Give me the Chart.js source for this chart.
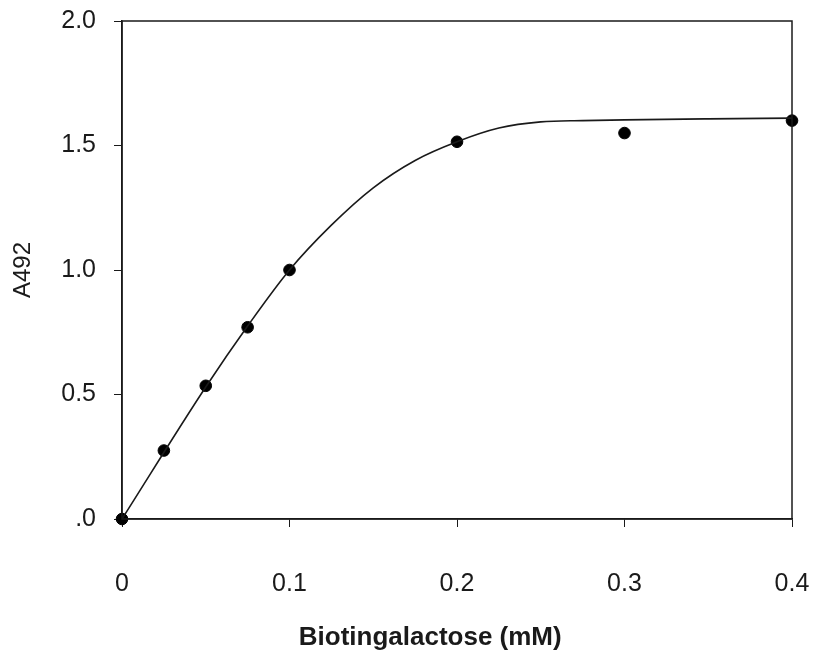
<!DOCTYPE html>
<html>
<head>
<meta charset="utf-8">
<script src="https://cdn.jsdelivr.net/npm/chart.js@4"></script>
<style>
  html, body { margin: 0; padding: 0; background: #fff; }
  #wrap { width: 813px; height: 660px; }
</style>
</head>
<body>
<div id="wrap"><canvas id="chart" width="813" height="660"></canvas></div>
<script>
// measured points
const concX = [0, 0.025, 0.05, 0.075, 0.1, 0.2, 0.3, 0.4];
const absY = [0, 0.275, 0.535, 0.77, 1.0, 1.515, 1.55, 1.6];

// fitted curve
const fitX = [0, 0.05, 0.075, 0.1, 0.125, 0.15, 0.175, 0.2, 0.225, 0.25, 0.275, 0.3, 0.35, 0.4];
const fitY = [0, 0.53, 0.775, 1.0, 1.18, 1.33, 1.44, 1.515, 1.57, 1.595, 1.6, 1.603, 1.607, 1.61];

const xTicks = [0, 0.1, 0.2, 0.3, 0.4];
const xTickLabels = ['0', '0.1', '0.2', '0.3', '0.4'];
const yTicks = [0, 0.5, 1.0, 1.5, 2.0];
const yTickLabels = ['.0', '0.5', '1.0', '1.5', '2.0'];
const xTitle = 'Biotingalactose (mM)';
const yTitle = 'A492';

const ink = '#1a1a1a';
const family = 'Liberation Sans, Arial, sans-serif';
const tickFont = { family: family, size: 25 };

// frame around the plot, plus the x title (sits a bit left of centre in the original)
const frame = {
    id: 'frame',
    afterDatasetsDraw(chart) {
        const a = chart.chartArea;
        const c = chart.ctx;
        c.save();
        c.strokeStyle = ink;
        c.lineWidth = 1.5;
        c.strokeRect(a.left, a.top, a.right - a.left, a.bottom - a.top);
        c.fillStyle = ink;
        c.font = 'bold 26px ' + family;
        c.textAlign = 'center';
        c.textBaseline = 'middle';
        c.fillText(xTitle, a.left + (a.right - a.left) * 0.46, 638);
        c.restore();
    }
};

new Chart(document.getElementById('chart'), {
    type: 'scatter',
    data: {
        datasets: [{
            type: 'line',
            data: fitX.map((x, i) => ({ x: x, y: fitY[i] })),
            borderColor: ink,
            borderWidth: 1.6,
            pointRadius: 0,
            cubicInterpolationMode: 'monotone',
            fill: false
        }, {
            data: concX.map((x, i) => ({ x: x, y: absY[i] })),
            backgroundColor: '#000',
            borderColor: '#000',
            pointRadius: 5.8,
            borderWidth: 1,
            clip: false
        }]
    },
    options: {
        responsive: false,
        animation: false,
        layout: { padding: { top: 21, right: 21, left: 0, bottom: 0 } },
        plugins: { legend: { display: false }, tooltip: { enabled: false } },
        scales: {
            x: {
                type: 'linear',
                min: 0,
                max: 0.4,
                afterBuildTicks: axis => { axis.ticks = xTicks.map(v => ({ value: v })); },
                afterFit: axis => {
                    axis.height = 141;
                    axis.paddingLeft = 0;
                    axis.paddingRight = 0;
                },
                ticks: {
                    color: ink,
                    font: tickFont,
                    padding: 42,
                    maxRotation: 0,
                    callback: (v, i) => xTickLabels[i]
                },
                grid: { drawOnChartArea: false, drawTicks: true, tickLength: 8, color: ink },
                border: { color: ink, width: 1.5 }
            },
            y: {
                min: 0,
                max: 2.0,
                afterBuildTicks: axis => { axis.ticks = yTicks.map(v => ({ value: v })); },
                afterFit: axis => {
                    axis.width = 122;
                    axis.paddingTop = 0;
                    axis.paddingBottom = 0;
                },
                ticks: {
                    color: ink,
                    font: tickFont,
                    padding: 18,
                    callback: (v, i) => yTickLabels[i]
                },
                grid: { drawOnChartArea: false, drawTicks: true, tickLength: 8, color: ink },
                border: { color: ink, width: 1.5 },
                title: {
                    display: true,
                    text: yTitle,
                    color: ink,
                    font: { family: family, size: 24 },
                    padding: { top: 9, bottom: 0 }
                }
            }
        }
    },
    plugins: [frame]
});
</script>
</body>
</html>
